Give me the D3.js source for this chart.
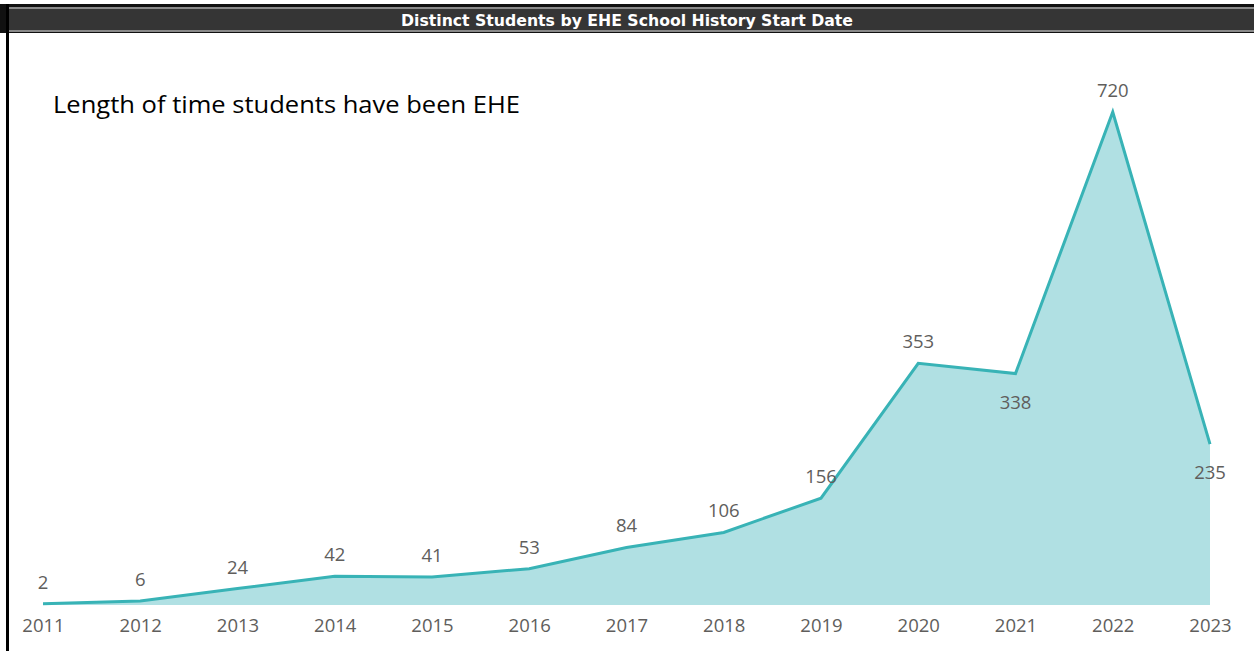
<!DOCTYPE html>
<html>
<head>
<meta charset="utf-8">
<script src="https://cdn.jsdelivr.net/npm/d3@7"></script>
<style>
  body { margin: 0; background: #fff; }
  svg { display: block; }
</style>
</head>
<body>
<svg id="chart" width="1254" height="651"></svg>
<script>
const years = ['2011', '2012', '2013', '2014', '2015', '2016', '2017', '2018', '2019', '2020', '2021', '2022', '2023']
const students = [2, 6, 24, 42, 41, 53, 84, 106, 156, 353, 338, 720, 235]
// labels drawn under the point instead of above
const labelBelow = ['2021', '2023']

const title = 'Distinct Students by EHE School History Start Date'
const subtitle = 'Length of time students have been EHE'

const data = years.map((y, i) => ({ year: y, value: students[i] }))

const svg = d3.select('#chart')
const teal = '#38b3b6', fill = '#b0e0e3', grey = '#605e5c'

// frame + title bar
svg.append('rect').attr('x', 0).attr('y', 4).attr('width', 1254).attr('height', 29).attr('fill', '#111')
svg.append('rect').attr('x', 9).attr('y', 7).attr('width', 1245).attr('height', 25).attr('fill', '#8a8a8a')
svg.append('rect').attr('x', 9).attr('y', 9).attr('width', 1245).attr('height', 21).attr('fill', '#353535')
svg.append('rect').attr('x', 6).attr('y', 4).attr('width', 3).attr('height', 647).attr('fill', '#000')

svg.append('text')
    .attr('x', 627).attr('y', 26)
    .attr('text-anchor', 'middle')
    .attr('textLength', 452)
    .attr('lengthAdjust', 'spacingAndGlyphs')
    .style('font-family', 'DejaVu Sans Condensed, DejaVu Sans, sans-serif')
    .style('font-weight', 'bold')
    .style('font-size', '16px')
    .style('fill', '#fff')
    .text(title)

svg.append('text')
    .attr('x', 53).attr('y', 113)
    .attr('textLength', 467)
    .attr('lengthAdjust', 'spacingAndGlyphs')
    .style('font-family', 'Open Sans, sans-serif')
    .style('font-size', '24px')
    .style('fill', '#000')
    .text(subtitle)

const x = d3.scalePoint().domain(years).range([43, 1210])
const y = d3.scaleLinear().domain([0, 720]).range([605, 112])

const area = d3.area()
    .x(d => x(d.year))
    .y0(y(0))
    .y1(d => y(d.value))

const line = d3.line()
    .x(d => x(d.year))
    .y(d => y(d.value))

svg.append('path').datum(data).attr('d', area).attr('fill', fill)
svg.append('path').datum(data).attr('d', line)
    .attr('fill', 'none')
    .attr('stroke', teal)
    .attr('stroke-width', 3)
    .attr('stroke-linejoin', 'miter')

const xAxis = d3.axisBottom(x).tickSize(0).tickPadding(14)
const gx = svg.append('g').attr('transform', `translate(0,${y(0)})`).call(xAxis)
gx.select('.domain').remove()
gx.selectAll('text')
    .style('font-family', 'Open Sans, sans-serif')
    .style('font-size', '18.5px')
    .style('fill', grey)

svg.selectAll('text.value')
    .data(data)
    .enter()
    .append('text')
    .attr('class', 'value')
    .attr('x', d => x(d.year))
    .attr('y', d => labelBelow.includes(d.year) ? y(d.value) + 35 : y(d.value) - 15)
    .attr('text-anchor', 'middle')
    .style('font-family', 'Open Sans, sans-serif')
    .style('font-size', '18.5px')
    .style('fill', grey)
    .text(d => d.value)
</script>
</body>
</html>
